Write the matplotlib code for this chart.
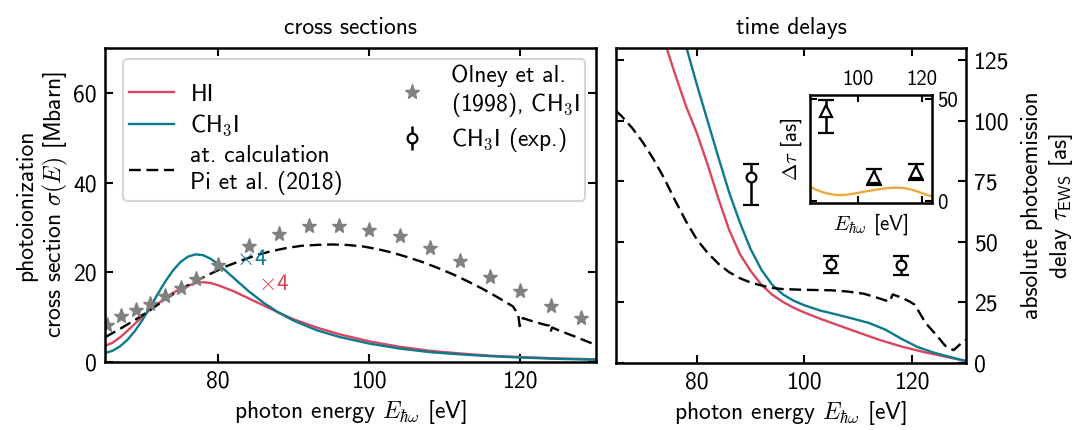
import os
import matplotlib
matplotlib.use("Agg")
import matplotlib.pyplot as plt
from matplotlib import font_manager

# Computer Modern Sans shipped with matplotlib
_cmss = os.path.join(matplotlib.get_data_path(), "fonts", "ttf", "cmss10.ttf")
font_manager.fontManager.addfont(_cmss)
plt.rcParams["font.family"] = ["cmss10", "DejaVu Sans"]
plt.rcParams["mathtext.fontset"] = "cm"
plt.rcParams["axes.unicode_minus"] = False
plt.rcParams["axes.formatter.use_mathtext"] = False

FS = 17
RED = "#d9465f"
TEAL = "#0a7a8c"
GRAY = "#808080"
ORANGE = "#ebaa3c"

# ---------------- cross sections (Mbarn) ----------------
cs_E = [65, 66, 67, 68, 69, 70, 71, 72, 73, 74, 75, 76, 77, 78, 79, 80, 82, 84,
        86, 88, 90, 93, 96, 100, 104, 108, 112, 116, 120, 125, 130]
cs_HI = [3.6, 4.3, 5.5, 7.0, 8.6, 10.2, 11.7, 13.0, 14.3, 15.4, 16.3, 17.0, 17.6,
         17.8, 17.6, 17.1, 15.8, 14.2, 12.6, 11.0, 9.5, 7.7, 6.2, 4.6, 3.4, 2.5,
         1.9, 1.4, 1.1, 0.8, 0.6]
cs_CH3I = [2.0, 2.5, 3.5, 5.0, 7.0, 9.5, 12.3, 15.2, 18.0, 20.4, 22.3, 23.5, 24.0,
           23.8, 23.0, 21.8, 18.8, 15.8, 13.2, 11.0, 9.2, 7.1, 5.6, 4.1, 3.0, 2.2,
           1.7, 1.3, 1.0, 0.7, 0.5]

at_E = [65, 67, 69, 71, 73, 75, 77, 79, 81, 83, 85, 87, 89, 91, 93, 95, 97, 99,
        101, 103, 105, 107, 109, 111, 113, 115, 117, 119, 119.7, 119.9, 120.3,
        121, 122, 123, 123.8, 124.0, 124.2, 125, 127, 130]
at_cs = [5.5, 7.4, 9.4, 11.6, 14.0, 16.2, 18.0, 19.7, 21.3, 22.6, 23.8, 24.7, 25.4,
         25.9, 26.1, 26.2, 26.1, 25.8, 25.2, 24.4, 23.4, 22.3, 21.0, 19.6, 18.0,
         16.3, 14.4, 12.4, 10.6, 8.0, 9.8, 9.4, 8.9, 8.4, 8.1, 6.8, 7.7, 7.1, 5.8, 3.8]

olney_E = [65.2, 67.1, 69.1, 71, 73, 75, 77, 80, 84, 88, 92, 96, 100, 104, 108,
           112, 116, 120, 124, 128]
olney_cs = [8.3, 10.2, 11.7, 13.0, 14.7, 16.5, 18.6, 21.6, 25.8, 28.6, 30.3, 30.3,
            29.4, 28.2, 25.5, 22.5, 18.9, 15.8, 12.4, 9.8]

# ---------------- time delays (as) ----------------
td_E_HI = [73.5, 74.4, 76, 78, 80, 82, 84, 86, 88, 90, 92, 94, 96, 98, 100, 103,
           106, 110, 114, 118, 122, 126, 130]
td_HI = [140, 130, 119, 106, 95, 82, 68, 55, 45, 38, 32.3, 28.2, 25.2, 22.8, 20.8,
         18.2, 15.8, 12.6, 9.5, 6.8, 4.6, 2.7, 0.8]
td_E_CH3I = [77.5, 78.1, 80, 82, 84, 86, 88, 90, 92, 94, 96, 98, 100, 103, 106,
             109, 112, 115, 118, 121, 124, 127, 130]
td_CH3I = [136, 130, 115, 100, 85, 70.5, 58, 47, 38.5, 32.3, 28.3, 25.7, 23.8,
           21.6, 20.0, 18.3, 16.5, 13.8, 10.0, 6.6, 4.3, 2.5, 0.8]
td_E_at = [65, 66, 68, 70, 72, 74, 76, 78, 80, 82, 84, 86, 88, 90, 92, 94, 96, 100,
           105, 108, 111, 113, 115.8, 116.4, 118, 119.5, 120.5, 122.5, 124.7,
           126.1, 127.7, 129.2, 130]
td_at = [104, 102, 97, 91, 84, 76, 67, 58.5, 51, 45.5, 41, 37.5, 35, 33.2, 32,
         31, 30.5, 30.2, 30.0, 29.5, 28.6, 27.3, 25.3, 28.3, 27.0, 25.4, 24.0,
         16.5, 11.0, 7.2, 5.3, 8.3, 9.6]

exp_E = [90, 105, 118]
exp_tau = [76.8, 41.0, 40.5]
exp_err_lo = [11.5, 4.0, 4.3]
exp_err_hi = [5.2, 3.0, 3.5]

# relative delay (inset)
dt_E = [85, 87, 89, 91, 93, 95, 97, 99, 101, 103, 105, 107, 109, 111, 113, 115,
        117, 119, 121, 123]
dt_calc = [7.1, 5.6, 4.4, 3.6, 3.1, 3.0, 3.3, 3.8, 4.4, 5.0, 5.5, 6.0, 6.4, 6.6,
           6.6, 6.3, 5.6, 4.5, 3.4, 2.4]
dt_exp_E = [90, 105, 118]
dt_exp = [44.3, 11.8, 14.4]
dt_err_lo = [11.0, 3.7, 3.8]
dt_err_hi = [5.2, 4.1, 3.8]

CH3I = r"CH$_\mathsf{3}$I"

fig = plt.figure(figsize=(10.77, 4.30), dpi=100)
W, H = 1077, 430
ax1 = fig.add_axes([105 / W, 1 - 362 / H, 491 / W, 314 / H])
ax2 = fig.add_axes([616 / W, 1 - 363 / H, 350 / W, 315 / H])
ins = fig.add_axes([810 / W, 1 - 203.3 / H, 121.7 / W, 108.3 / H])

LW = 1.7
DASH = (5.0, 2.4)

# left panel
ax1.plot(cs_E, cs_HI, color=RED, lw=LW, label="HI")
ax1.plot(cs_E, cs_CH3I, color=TEAL, lw=LW, label=CH3I)
ax1.plot(at_E, at_cs, color="black", lw=LW, ls=(0, DASH),
         label="at. calculation\nPi et al. (2018)")
ax1.plot(olney_E, olney_cs, ls="none", marker="*", ms=11, color=GRAY,
         mec=GRAY, label="Olney et al.\n(1998), " + CH3I)
ax1.errorbar([], [], yerr=[], fmt="o", mfc="white", mec="black",
             ms=7, mew=1.6, ecolor="black", elinewidth=1.8,
             capsize=5.5, capthick=1.8, label=CH3I + " (exp.)")
ax1.text(84.4, 22.9, r"$\times$4", color=TEAL, fontsize=FS, ha="center", va="center")
ax1.text(87.3, 17.3, r"$\times$4", color=RED, fontsize=FS, ha="center", va="center")

ax1.set_xlim(65, 130)
ax1.set_ylim(0, 70)
ax1.set_xticks([80, 100, 120])
ax1.set_yticks([0, 20, 40, 60])
ax1.set_xlabel(r"photon energy $E_{\hbar\omega}$ [eV]", fontsize=FS)
ax1.set_ylabel("photoionization\ncross section $\\sigma(E)$ [Mbarn]", fontsize=FS,
               labelpad=2)
ax1.set_title("cross sections", fontsize=FS, pad=10)

leg = ax1.legend(ncol=2, loc="upper left", bbox_to_anchor=(0.037, 0.965),
                 fontsize=FS, handlelength=1.9, handletextpad=0.7,
                 columnspacing=1.95, labelspacing=0.3, borderpad=0.25,
                 borderaxespad=0.0, fancybox=True, framealpha=0.8,
                 edgecolor="0.8")
leg.get_frame().set_linewidth(1.5)

# right panel
ax2.plot(td_E_HI, td_HI, color=RED, lw=LW)
ax2.plot(td_E_CH3I, td_CH3I, color=TEAL, lw=LW)
ax2.plot(td_E_at, td_at, color="black", lw=LW, ls=(0, DASH))
ax2.errorbar(exp_E, exp_tau, yerr=[exp_err_lo, exp_err_hi], fmt="o",
             mfc="white", mec="black", ms=7, mew=1.6, ecolor="black",
             elinewidth=1.8, capsize=5.5, capthick=1.8)
ax2.set_xlim(65, 130)
ax2.set_ylim(0, 130)
ax2.set_xticks([80, 100, 120])
ax2.set_yticks([0, 25, 50, 75, 100, 125])
ax2.yaxis.tick_right()
ax2.yaxis.set_label_position("right")
ax2.set_xlabel(r"photon energy $E_{\hbar\omega}$ [eV]", fontsize=FS)
ax2.set_ylabel("absolute photoemission\ndelay $\\tau_\\mathsf{EWS}$ [as]",
               fontsize=FS, rotation=90, labelpad=8)
ax2.set_title("time delays", fontsize=FS, pad=10)

# inset
ins.plot(dt_E, dt_calc, color=ORANGE, lw=LW)
ins.errorbar(dt_exp_E, dt_exp, yerr=[dt_err_lo, dt_err_hi], fmt="^",
             mfc="white", mec="black", ms=9, mew=1.6, ecolor="black",
             elinewidth=1.8, capsize=5.5, capthick=1.8)
ins.set_xlim(85, 123)
ins.set_ylim(-1, 52)
ins.set_xticks([100, 120])
ins.set_yticks([0, 50])
ins.xaxis.tick_top()
ins.yaxis.tick_right()
ins.xaxis.set_label_position("bottom")
ins.yaxis.set_label_position("left")
ins.set_xlabel(r"$E_{\hbar\omega}$ [eV]", fontsize=15, labelpad=6)
ins.set_ylabel(r"$\Delta\tau$ [as]", fontsize=15)

for ax in (ax1, ax2):
    ax.tick_params(direction="in", top=True, bottom=True, left=True, right=True,
                   length=6, width=1.5, labelsize=FS, pad=6)
    for s in ax.spines.values():
        s.set_linewidth(1.8)
ax2.tick_params(labelleft=False, labelright=True)
ins.tick_params(direction="in", top=True, bottom=True, left=True, right=True,
                length=5, width=1.5, labelsize=15, labeltop=True,
                labelbottom=False, labelright=True, labelleft=False, pad=4)
for s in ins.spines.values():
    s.set_linewidth(1.8)

fig.savefig("out.png", dpi=100)
